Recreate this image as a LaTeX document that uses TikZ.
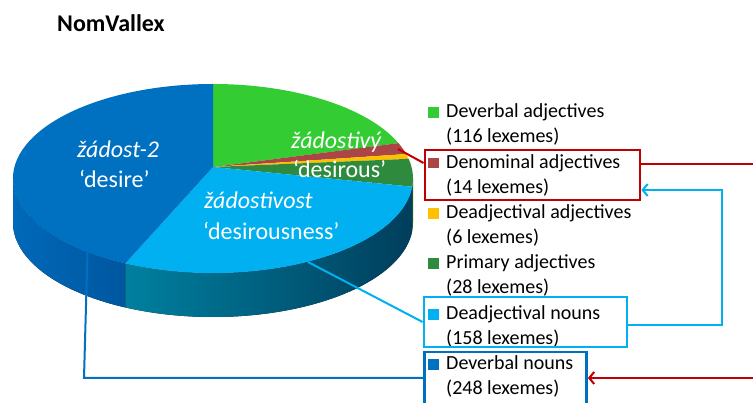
\documentclass[tikz,border=0pt]{standalone}
\usepackage{fontspec}
\setmainfont{Carlito}
\usetikzlibrary{arrows.meta}
\definecolor{dblue}{RGB}{0,112,192}
\definecolor{lblue}{RGB}{0,176,240}
\definecolor{pgreen}{RGB}{51,204,51}
\definecolor{pred}{RGB}{170,70,70}
\definecolor{pyellow}{RGB}{255,192,0}
\definecolor{pdgreen}{RGB}{46,139,62}
\definecolor{cred}{RGB}{192,0,0}
\definecolor{dbsideL}{RGB}{0,105,185}
\definecolor{dbsideR}{RGB}{0,72,140}
\definecolor{lbsideL}{RGB}{0,128,160}
\definecolor{lbsideR}{RGB}{0,62,92}
\definecolor{dgside}{RGB}{25,90,40}
\begin{document}
\begin{tikzpicture}[x=1pt,y=1pt,
  pielab/.style={anchor=base west,inner sep=0pt,text=white,font=\fontsize{24}{29}\selectfont},
  legtext/.style={anchor=base west,inner sep=0pt,font=\fontsize{20}{25}\selectfont},
  swatch/.style={anchor=south west,inner sep=0pt,minimum width=11pt,minimum height=10.5pt},
  legbox/.style={draw,line width=2.8pt,inner sep=0pt},
  conn/.style={line width=2pt},
  barb/.style={-{Straight Barb[length=5pt,width=12pt,line width=2pt]}}]
\useasboundingbox (0,0) rectangle (753,-403);
\clip (0,0) rectangle (753,-403);
% title
\node[anchor=base west,inner sep=0pt,font=\fontsize{24}{29}\selectfont\bfseries] (title) at (57,-32) {NomVallex};
% pie geometry
\coordinate (C) at (213,-178.5);
\coordinate (A) at (213,-167);
% sides
\fill[left color=dbsideL,right color=dbsideR] (C) ++(-116:200 and 94.5) arc[start angle=-116,end angle=-180,x radius=200,y radius=94.5] -- ++(0,-44) arc[start angle=-180,end angle=-116,x radius=200,y radius=94.5] -- cycle;
\fill[left color=lbsideL,right color=lbsideR] (C) ++(-5:200 and 94.5) arc[start angle=-5,end angle=-116,x radius=200,y radius=94.5] -- ++(0,-44) arc[start angle=-116,end angle=-5,x radius=200,y radius=94.5] -- cycle;
\fill[dgside] (C) ++(0:200 and 94.5) arc[start angle=0,end angle=-5,x radius=200,y radius=94.5] -- ++(0,-44) arc[start angle=-5,end angle=0,x radius=200,y radius=94.5] -- cycle;
% top slices
\fill[pgreen] (C) ++(90:200 and 94.5) arc[start angle=90,end angle=22,x radius=200,y radius=94.5] -- (A) -- cycle;
\fill[pred] (C) ++(22:200 and 94.5) arc[start angle=22,end angle=15,x radius=200,y radius=94.5] -- (A) -- cycle;
\fill[pyellow] (C) ++(15:200 and 94.5) arc[start angle=15,end angle=12,x radius=200,y radius=94.5] -- (A) -- cycle;
\fill[pdgreen] (C) ++(12:200 and 94.5) arc[start angle=12,end angle=-5,x radius=200,y radius=94.5] -- (A) -- cycle;
\fill[lblue] (C) ++(-5:200 and 94.5) arc[start angle=-5,end angle=-116,x radius=200,y radius=94.5] -- (A) -- cycle;
\fill[dblue] (C) ++(-116:200 and 94.5) arc[start angle=-116,end angle=-270,x radius=200,y radius=94.5] -- (A) -- cycle;
% pie labels
\node[pielab,font=\fontsize{24}{29}\selectfont\itshape] (l1a) at (77,-158) {žádost-2};
\node[pielab] (l1b) at (79,-188) {‘desire’};
\node[pielab,font=\fontsize{24}{29}\selectfont\itshape] (l2a) at (291,-149) {žádostivý};
\node[pielab] (l2b) at (293,-178) {‘desirous’};
\node[pielab,font=\fontsize{24}{29}\selectfont\itshape] (l3a) at (204,-209) {žádostivost};
\node[pielab] (l3b) at (203,-240) {‘desirousness’};
% legend
\node[swatch,fill=pgreen] (s1) at (428,-118) {};
\node[legtext] (t1a) at (446,-118) {Deverbal adjectives};
\node[legtext] (t1b) at (446,-143) {(116 lexemes)};
\node[swatch,fill=pred] (s2) at (428,-168.5) {};
\node[legtext] (t2a) at (446,-168.5) {Denominal adjectives};
\node[legtext] (t2b) at (446,-193.5) {(14 lexemes)};
\node[swatch,fill=pyellow] (s3) at (428,-219) {};
\node[legtext] (t3a) at (446,-219) {Deadjectival adjectives};
\node[legtext] (t3b) at (446,-244) {(6 lexemes)};
\node[swatch,fill=pdgreen] (s4) at (428,-269) {};
\node[legtext] (t4a) at (446,-269) {Primary adjectives};
\node[legtext] (t4b) at (446,-294) {(28 lexemes)};
\node[swatch,fill=lblue] (s5) at (428,-320) {};
\node[legtext] (t5a) at (446,-320) {Deadjectival nouns};
\node[legtext] (t5b) at (446,-345) {(158 lexemes)};
\node[swatch,fill=dblue] (s6) at (428,-370) {};
\node[legtext] (t6a) at (446,-370) {Deverbal nouns};
\node[legtext] (t6b) at (446,-395) {(248 lexemes)};
% boxes
\node[legbox,draw=cred,minimum width=215pt,minimum height=50pt] (redbox) at (532.5,-175) {};
\node[legbox,draw=lblue,minimum width=203pt,minimum height=50pt] (lbbox) at (525.5,-322) {};
\node[legbox,draw=dblue,minimum width=162pt,minimum height=54pt] (dbbox) at (505.5,-379) {};
% anchor points on the pie and off the page
\coordinate (pr) at (398,-149);
\coordinate (plb) at (308,-262);
\coordinate (pdb) at (88,-233);
\coordinate (dbturn) at (84,-378);
\coordinate (lbturn1) at (722,-325);
\coordinate (lbturn2) at (722,-190);
\coordinate (rturn1) at (775,-164);
\coordinate (rturn2) at (775,-378);
% connectors
\draw[conn,cred] (pr) -- ([yshift=12pt]redbox.west);
\draw[conn,lblue] (plb) -- (lbbox.west);
\draw[conn,dblue] (pdb) -- (dbturn) -- (dbbox.west |- dbturn);
\draw[conn,lblue,barb] (lbbox.east |- lbturn1) -- (lbturn1) -- (lbturn2) -- (redbox.east |- lbturn2);
\draw[conn,cred,barb] (redbox.east |- rturn1) -- (rturn1) -- (rturn2) -- (dbbox.east |- rturn2);
\end{tikzpicture}
\end{document}
